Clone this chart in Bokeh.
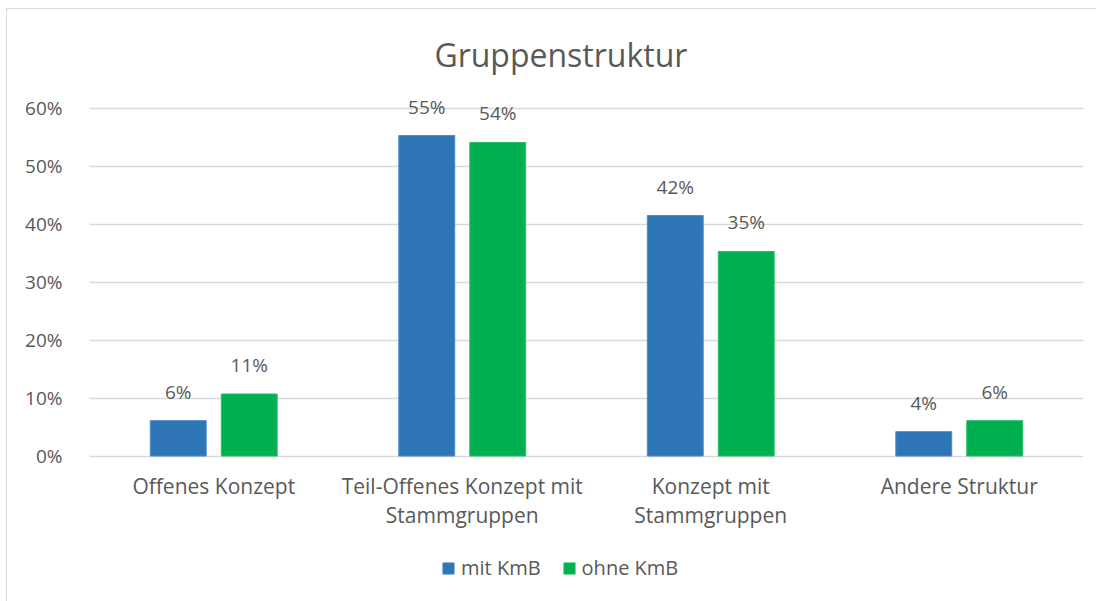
from bokeh.plotting import figure
from bokeh.models import ColumnDataSource, FactorRange, Range1d, FixedTicker, NumeralTickFormatter, LabelSet, Label, Legend, LegendItem
from bokeh.transform import dodge
from bokeh.core.properties import value
from bokeh.embed import file_html
from bokeh.resources import INLINE

title_text = "Gruppenstruktur"
categories = ["Offenes Konzept", "Teil-Offenes Konzept mit\nStammgruppen", "Konzept mit\nStammgruppen", "Andere Struktur"]
series_names = ["mit KmB", "ohne KmB"]
mit_kmb = [0.061, 0.553, 0.415, 0.042]
ohne_kmb = [0.107, 0.541, 0.353, 0.061]
y_ticks = [0.0, 0.1, 0.2, 0.3, 0.4, 0.5, 0.6]

BLUE = "#2E75B6"
GREEN = "#00B050"
TXT = "#595959"
GRID = "#D9D9D9"
FONT = "Open Sans"
Y_MIN, Y_MAX = -0.2528, 0.7705

src = ColumnDataSource(dict(
    cat=categories,
    zero=[0.0] * len(categories),
    mit=mit_kmb,
    ohne=ohne_kmb,
    mit_lbl=[f"{round(v*100):.0f}%" for v in mit_kmb],
    ohne_lbl=[f"{round(v*100):.0f}%" for v in ohne_kmb],
))

p = figure(width=1090, height=593, x_range=FactorRange(*categories, range_padding=0),
           y_range=Range1d(Y_MIN, Y_MAX), output_backend="svg", toolbar_location=None,
           x_axis_location=None,
           min_border_left=82, min_border_right=14, min_border_top=0, min_border_bottom=0)
p.margin = (8, 0, 0, 6)
p.x_range.range_padding = 0
p.outline_line_color = None
p.background_fill_color = "white"
p.border_fill_color = "white"
p.styles = {"border-left": "1px solid #D9D9D9", "border-top": "1px solid #D9D9D9"}

off = 0.1428
bw = 0.225
r1 = p.vbar(x=dodge("cat", -off, range=p.x_range), top="mit", width=bw, source=src,
            fill_color=BLUE, line_color="#4F8BC9", line_width=1)
r2 = p.vbar(x=dodge("cat", off, range=p.x_range), top="ohne", width=bw, source=src,
            fill_color=GREEN, line_color="#2DBE69", line_width=1)

for col, lbl, o in (("mit", "mit_lbl", -off), ("ohne", "ohne_lbl", off)):
    ls = LabelSet(x=dodge("cat", o, range=p.x_range), y=col, text=lbl, source=src,
                  text_align="center", text_baseline="alphabetic", y_offset=22,
                  text_font=value(FONT), text_font_size=value("19px"), text_color=TXT)
    p.add_layout(ls)

# category labels under the zero line
p.text(x="cat", y="zero", text="cat", source=src, text_align="center", text_baseline="top",
       y_offset=16, text_font=value(FONT), text_font_size=value("21px"), text_color=TXT,
       text_line_height=1.05)

# y axis
p.yaxis.ticker = FixedTicker(ticks=y_ticks)
p.yaxis.formatter = NumeralTickFormatter(format="0%")
p.yaxis.axis_line_color = None
p.yaxis.major_tick_line_color = None
p.yaxis.minor_tick_line_color = None
p.yaxis.major_tick_in = 0
p.yaxis.major_tick_out = 0
p.yaxis.major_label_standoff = 27
p.yaxis.major_label_text_font = FONT
p.yaxis.major_label_text_font_size = "19px"
p.yaxis.major_label_text_color = TXT

p.xgrid.grid_line_color = None
p.ygrid.ticker = FixedTicker(ticks=y_ticks)
p.ygrid.grid_line_color = GRID
p.ygrid.grid_line_width = 1.3

# title
p.add_layout(Label(x=1.897, y=0.693, text=title_text, text_align="center", text_baseline="alphabetic",
                   text_font=FONT, text_font_size="32px", text_color=TXT))

legend = Legend(items=[LegendItem(label=series_names[0], renderers=[r1]),
                       LegendItem(label=series_names[1], renderers=[r2])],
                orientation="horizontal", location=(352, 21),
                glyph_width=14, glyph_height=14, label_standoff=6, spacing=21,
                padding=0, margin=0, border_line_color=None, background_fill_alpha=0,
                label_text_font=FONT, label_text_font_size="20px", label_text_color=TXT)
p.add_layout(legend, "center")

open("out.html", "w").write(file_html(p, INLINE))
